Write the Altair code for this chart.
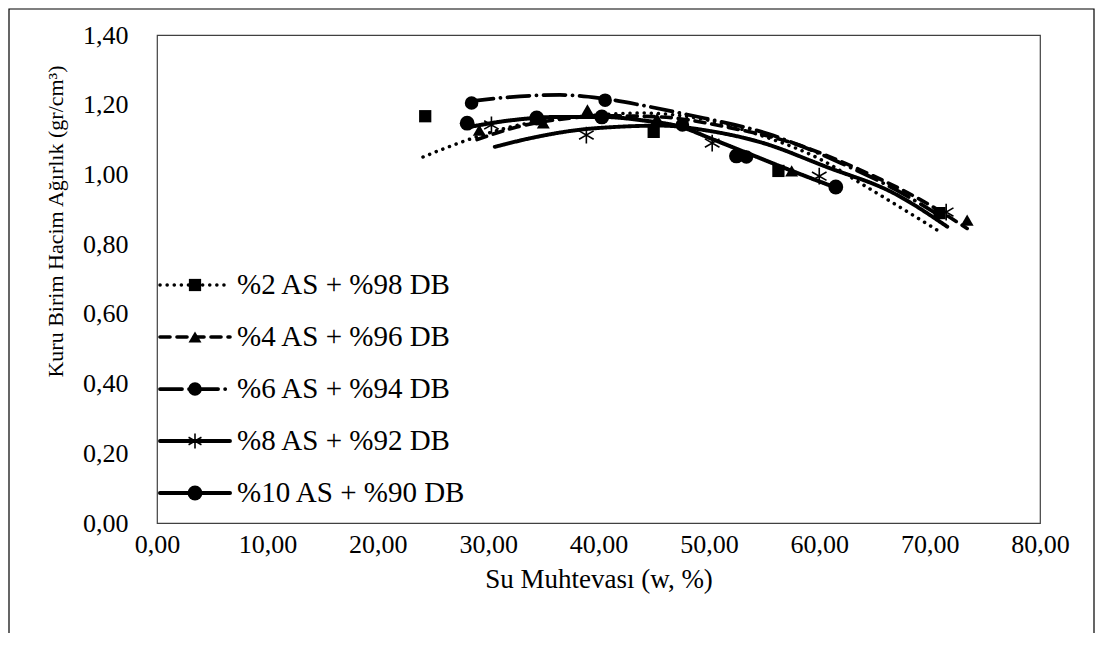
import altair as alt
import pandas as pd

SERIES = ["%2 AS + %98 DB", "%4 AS + %96 DB", "%6 AS + %94 DB",
          "%8 AS + %92 DB", "%10 AS + %90 DB"]

# measured points (water content %, dry unit weight)
W2 = [24.3, 45.0, 56.3, 70.9]
D2 = [1.167, 1.122, 1.010, 0.889]
W4 = [29.2, 35.0, 39.0, 45.3, 57.5, 73.4]
D4 = [1.127, 1.148, 1.185, 1.160, 1.010, 0.869]
W6 = [28.5, 40.6, 47.6, 53.4]
D6 = [1.205, 1.213, 1.142, 1.050]
W8 = [30.3, 38.9, 50.3, 60.0, 71.5]
D8 = [1.142, 1.113, 1.090, 0.995, 0.892]
W10 = [28.1, 34.4, 40.3, 52.5, 61.5]
D10 = [1.147, 1.162, 1.165, 1.053, 0.964]

# trend curves
TW2 = [24.1, 28.6, 32.0, 38.0, 44.0, 50.0, 54.6, 60.0, 64.3, 70.7]
TD2 = [1.050, 1.104, 1.136, 1.165, 1.176, 1.155, 1.113, 1.045, 0.964, 0.840]
TW4 = [29.0, 32.6, 37.0, 41.0, 45.6, 51.6, 57.6, 63.7, 69.7, 73.4]
TD4 = [1.100, 1.136, 1.160, 1.168, 1.165, 1.136, 1.090, 1.013, 0.918, 0.845]
TW6 = [28.5, 32.0, 36.5, 40.1, 44.0, 48.0, 55.5, 62.0, 67.0, 71.0]
TD6 = [1.210, 1.222, 1.228, 1.219, 1.198, 1.172, 1.115, 1.032, 0.955, 0.880]
TW8 = [30.6, 34.0, 38.0, 42.0, 45.6, 50.0, 54.6, 60.7, 66.7, 71.6]
TD8 = [1.079, 1.105, 1.127, 1.137, 1.140, 1.125, 1.093, 1.021, 0.947, 0.850]
TW10 = [28.1, 32.0, 36.5, 40.3, 44.0, 47.6, 50.1, 53.9, 57.3, 61.5]
TD10 = [1.135, 1.155, 1.165, 1.165, 1.155, 1.135, 1.104, 1.056, 1.013, 0.962]

Y_TICKS = [0, 0.2, 0.4, 0.6, 0.8, 1.0, 1.2, 1.4]
X_TICKS = [0, 10, 20, 30, 40, 50, 60, 70, 80]

pts_w = [W2, W4, W6, W8, W10]
pts_d = [D2, D4, D6, D8, D10]
tr_w = [TW2, TW4, TW6, TW8, TW10]
tr_d = [TD2, TD4, TD6, TD8, TD10]

pts = pd.DataFrame([
    {"series": s, "w": w, "d": d}
    for s, ws, ds in zip(SERIES, pts_w, pts_d) for w, d in zip(ws, ds)
])
trend = pd.DataFrame([
    {"series": s, "w": w, "d": d, "i": i}
    for s, ws, ds in zip(SERIES, tr_w, tr_d) for i, (w, d) in enumerate(zip(ws, ds))
])
leg = pd.DataFrame({"series": SERIES})

FONT = "'Times New Roman', 'Liberation Serif', Times, serif"
ASTER = "M0,-1L0,1M-0.87,-0.5L0.87,0.5M-0.87,0.5L0.87,-0.5"

dash = alt.StrokeDash("series:N", scale=alt.Scale(
    domain=SERIES, range=[[0.1, 7], [10, 7], [22, 7, 0.1, 7], [1, 0], [1, 0]]), legend=None)
swidth = alt.StrokeWidth("series:O", scale=alt.Scale(
    domain=SERIES, range=[3.5, 4, 4, 4, 3]), legend=None)
shape = alt.Shape("series:N", scale=alt.Scale(
    domain=SERIES, range=["square", "triangle-up", "circle", "circle", "circle"]), legend=None)
msize = alt.Size("series:O", scale=alt.Scale(
    domain=SERIES, range=[150, 220, 260, 280, 260]), legend=None)

x_enc = alt.X("w:Q", scale=alt.Scale(domain=[0, 80], nice=False),
              axis=alt.Axis(values=X_TICKS, title="Su Muhtevası (w, %)",
                            labelExpr="replace(format(datum.value, '.2f'), '.', ',')",
                            ticks=False, domain=False, grid=False, labelFlush=False,
                            labelOverlap=False, labelPadding=8,
                            labelFont=FONT, labelFontSize=26, labelColor="black",
                            titleFont=FONT, titleFontSize=27, titleFontWeight="normal",
                            titleColor="black", titleY=56, titleBaseline="middle"))
y_enc = alt.Y("d:Q", scale=alt.Scale(domain=[0, 1.4], nice=False),
              axis=alt.Axis(values=Y_TICKS, title="Kuru Birim Hacim Ağırlık (gr/cm³)",
                            labelExpr="replace(format(datum.value, '.2f'), '.', ',')",
                            ticks=False, domain=False, grid=False, labelFlush=False,
                            labelOverlap=False, labelPadding=29,
                            labelFont=FONT, labelFontSize=26, labelColor="black",
                            titleFont=FONT, titleFontSize=22, titleFontWeight="normal",
                            titleColor="black", titleAngle=270, titleX=-102, titleY=186,
                            titleBaseline="middle", titleAlign="center"))

markers = alt.Chart(pts).transform_filter(
    alt.datum.series != SERIES[3]
).mark_point(filled=True, color="black", opacity=1).encode(
    x=x_enc, y=y_enc, shape=shape, size=msize)

aster = alt.Chart(pts).transform_filter(
    alt.datum.series == SERIES[3]
).mark_point(filled=False, shape=ASTER, size=280, color="black",
             strokeWidth=1.6, opacity=1).encode(x="w:Q", y="d:Q")

lines = alt.Chart(trend).mark_line(color="black", strokeCap="round",
                                   interpolate="monotone").encode(
    x="w:Q", y="d:Q", detail="series:N", order="i:Q",
    strokeDash=dash, strokeWidth=swidth)

# point scale with its default half-step padding: rows land 52px apart
leg_y = alt.Y("series:N", sort=SERIES,
              scale=alt.Scale(domain=SERIES, range=[224, 484]), axis=None)

leg_lines = alt.Chart(leg).mark_rule(color="black", strokeCap="round").encode(
    y=leg_y, x=alt.value(3), x2=alt.value(73), strokeDash=dash, strokeWidth=swidth)
leg_marks = alt.Chart(leg).transform_filter(
    alt.datum.series != SERIES[3]
).mark_point(filled=True, color="black", opacity=1).encode(
    y=leg_y, x=alt.value(38), shape=shape, size=msize)
leg_aster = alt.Chart(leg).transform_filter(
    alt.datum.series == SERIES[3]
).mark_point(filled=False, shape=ASTER, size=220, color="black",
             strokeWidth=1.6, opacity=1).encode(y=leg_y, x=alt.value(38))
leg_text = alt.Chart(leg).mark_text(align="left", baseline="middle", font=FONT,
                                    fontSize=29, color="black").encode(
    y=leg_y, x=alt.value(80), text="series:N")

border = alt.Chart(leg).transform_filter(alt.datum.series == SERIES[0]).mark_rect(
    fillOpacity=0, stroke="black", strokeWidth=1.2).encode(
    x=alt.value(-148), x2=alt.value(937), y=alt.value(-26), y2=alt.value(640))

main = alt.layer(markers, aster, lines)
legend = alt.layer(leg_lines, leg_marks, leg_aster, leg_text)

chart = alt.layer(main, legend, border).resolve_scale(y="independent").properties(
    width=883, height=488,
    autosize=alt.AutoSizeParams(type="none"),
    padding={"left": 149, "top": 27, "right": 55, "bottom": 110},
).configure_view(stroke="#404040", strokeWidth=1.2)

chart.save("out.html", embed_options={"renderer": "svg", "actions": False})
